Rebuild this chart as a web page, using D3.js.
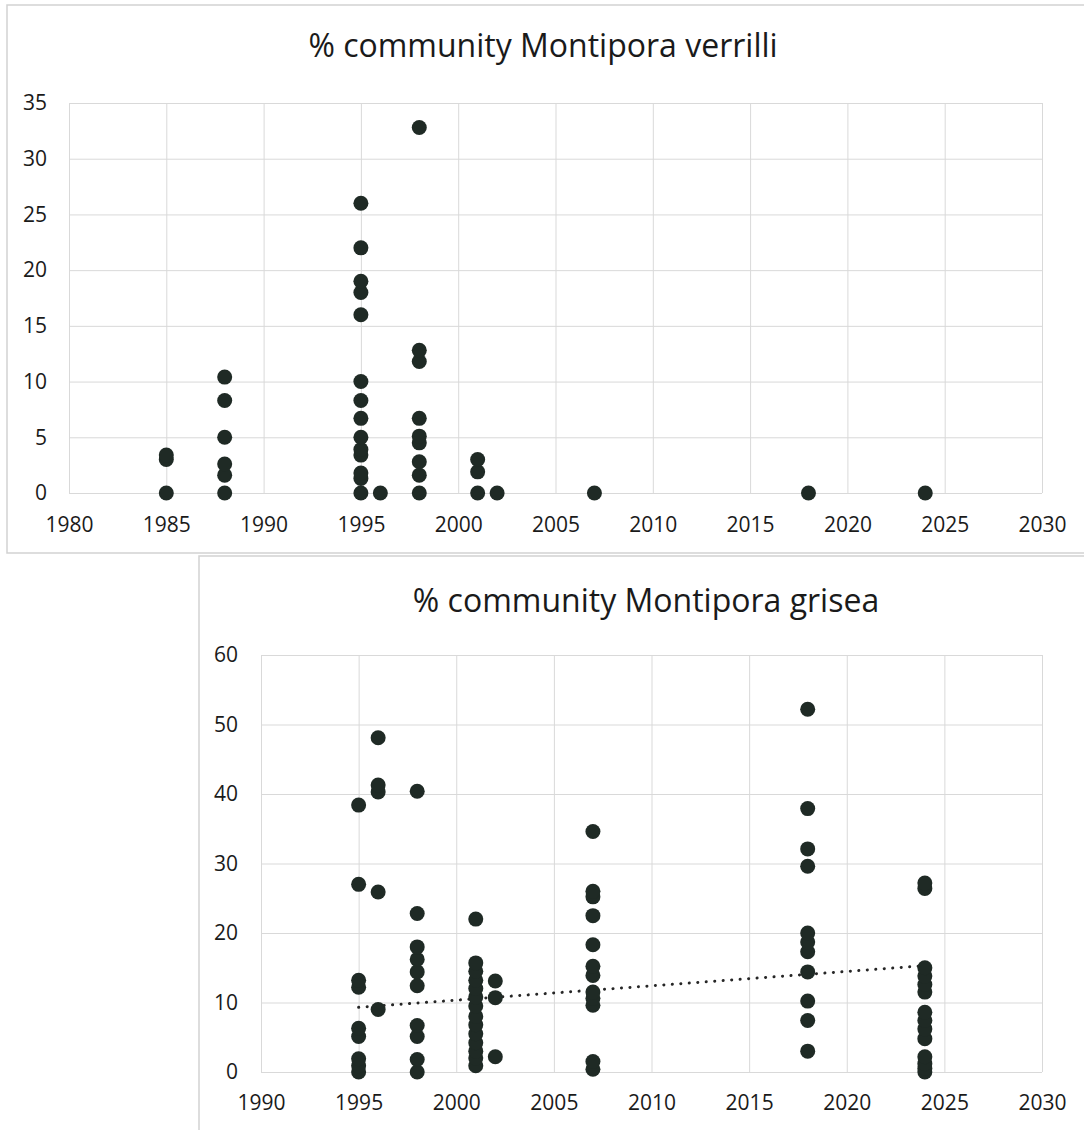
<!DOCTYPE html>
<html>
<head>
<meta charset="utf-8">
<script src="https://cdn.jsdelivr.net/npm/d3@7"></script>
<style>
  html, body { margin: 0; padding: 0; background: #ffffff; }
  svg { display: block; }
  text { font-family: "Open Sans", "Noto Sans", sans-serif; fill: #1a1a1a; }
</style>
</head>
<body>
<div id="chart"></div>
<script>
// ---- Montipora verrilli: survey years and % community values per year ----
const verrilliYears = [1985, 1988, 1995, 1996, 1998, 2001, 2002, 2007, 2018, 2024];
const verrilliValues = [
  [0, 3.0, 3.4],
  [0, 1.6, 2.6, 5.0, 8.3, 10.4],
  [0, 1.3, 1.8, 3.4, 3.9, 5.0, 6.7, 8.3, 10.0, 16.0, 18.0, 19.0, 22.0, 26.0],
  [0],
  [0, 1.6, 2.8, 4.5, 5.1, 6.7, 11.8, 12.8, 32.8],
  [0, 1.9, 3.0],
  [0],
  [0],
  [0],
  [0]
];
const verrilliXTicks = [1980, 1985, 1990, 1995, 2000, 2005, 2010, 2015, 2020, 2025, 2030];
const verrilliYTicks = [0, 5, 10, 15, 20, 25, 30, 35];

// ---- Montipora grisea: survey years and % community values per year ----
const griseaYears = [1995, 1996, 1998, 2001, 2002, 2007, 2018, 2024];
const griseaValues = [
  [0, 0.9, 1.9, 5.1, 6.3, 12.2, 13.2, 27.0, 38.4],
  [9.0, 25.9, 40.3, 41.3, 48.1],
  [0, 1.8, 5.1, 6.7, 12.4, 14.4, 16.2, 18.0, 22.8, 40.4],
  [0.9, 2.0, 3.0, 4.2, 5.5, 6.8, 8.0, 9.5, 10.8, 12.0, 13.2, 14.5, 15.7, 22.0],
  [2.2, 10.7, 13.1],
  [0.4, 1.5, 9.6, 10.6, 11.5, 13.9, 15.2, 18.3, 22.5, 25.2, 26.0, 34.6],
  [3.0, 7.4, 10.2, 14.4, 17.3, 18.7, 20.0, 29.6, 32.1, 37.9, 52.2],
  [0, 0.5, 1.2, 2.2, 4.8, 6.2, 7.4, 8.6, 11.5, 12.6, 13.8, 15.0, 26.4, 27.2]
];
const griseaXTicks = [1990, 1995, 2000, 2005, 2010, 2015, 2020, 2025, 2030];
const griseaYTicks = [0, 10, 20, 30, 40, 50, 60];
// linear trend line endpoints (year, value)
const griseaTrendYears = [1995, 2024];
const griseaTrendValues = [9.3, 15.3];

const W = 1084, H = 1130;
const svg = d3.select("#chart").append("svg")
  .attr("width", W).attr("height", H);

const FRAME = "#d2d2d2";
const GRID = "#d9d9d9";
const DOT = "#1f2a25";
const TICK_FONT = 21;
const TITLE_FONT = 32;

function flatten(years, values) {
  const pts = [];
  years.forEach((yr, i) => values[i].forEach(v => pts.push({ x: yr, y: v })));
  return pts;
}

function drawPanel(cfg) {
  const g = svg.append("g");

  // outer chart frame
  g.append("rect")
    .attr("x", cfg.frame[0]).attr("y", cfg.frame[1])
    .attr("width", cfg.frame[2]).attr("height", cfg.frame[3])
    .attr("fill", "none").attr("stroke", FRAME).attr("stroke-width", 1.5);

  const x = d3.scaleLinear().domain(cfg.xDomain).range([cfg.left, cfg.right]);
  const y = d3.scaleLinear().domain(cfg.yDomain).range([cfg.bottom, cfg.top]);
  const pw = cfg.right - cfg.left, ph = cfg.bottom - cfg.top;

  // vertical gridlines + year labels
  const xa = g.append("g")
    .attr("transform", `translate(0,${cfg.bottom})`)
    .call(d3.axisBottom(x).tickValues(cfg.xTicks).tickFormat(d3.format("d"))
      .tickSizeInner(-ph).tickSizeOuter(0).tickPadding(cfg.xPad));
  xa.select(".domain").remove();
  xa.selectAll(".tick line").attr("stroke", GRID).attr("stroke-width", 1);
  xa.selectAll(".tick text").attr("font-size", TICK_FONT).attr("fill", "#1a1a1a");

  // horizontal gridlines + value labels
  const ya = g.append("g")
    .attr("transform", `translate(${cfg.left},0)`)
    .call(d3.axisLeft(y).tickValues(cfg.yTicks).tickFormat(d3.format("d"))
      .tickSizeInner(-pw).tickSizeOuter(0).tickPadding(cfg.yPad));
  ya.select(".domain").remove();
  ya.selectAll(".tick line").attr("stroke", GRID).attr("stroke-width", 1);
  ya.selectAll(".tick text").attr("font-size", TICK_FONT).attr("fill", "#1a1a1a");

  // title
  g.append("text")
    .attr("x", cfg.titleX).attr("y", cfg.titleY)
    .attr("text-anchor", "middle")
    .attr("font-size", TITLE_FONT)
    .text(cfg.title);

  // trend line (dotted)
  if (cfg.trendYears) {
    const line = d3.line().x(d => x(d[0])).y(d => y(d[1]));
    g.append("path")
      .datum(cfg.trendYears.map((yr, i) => [yr, cfg.trendValues[i]]))
      .attr("d", line)
      .attr("fill", "none")
      .attr("stroke", "#262626")
      .attr("stroke-width", 3)
      .attr("stroke-linecap", "round")
      .attr("stroke-dasharray", "0.1,8.4");
  }

  // survey points
  g.append("g").selectAll("circle")
    .data(flatten(cfg.years, cfg.values))
    .join("circle")
    .attr("cx", d => x(d.x))
    .attr("cy", d => y(d.y))
    .attr("r", 7.5)
    .attr("fill", DOT);
}

drawPanel({
  title: "% community Montipora verrilli",
  frame: [7, 5, 1090, 548],
  left: 69, right: 1042, top: 103, bottom: 493,
  xDomain: [1980, 2030], yDomain: [0, 35],
  xTicks: verrilliXTicks, yTicks: verrilliYTicks,
  xPad: 24, yPad: 22,
  titleX: 543, titleY: 57,
  years: verrilliYears, values: verrilliValues
});

drawPanel({
  title: "% community Montipora grisea",
  frame: [199, 556, 900, 600],
  left: 261, right: 1042, top: 655, bottom: 1072,
  xDomain: [1990, 2030], yDomain: [0, 60],
  xTicks: griseaXTicks, yTicks: griseaYTicks,
  xPad: 23, yPad: 23,
  titleX: 646, titleY: 612,
  years: griseaYears, values: griseaValues,
  trendYears: griseaTrendYears, trendValues: griseaTrendValues
});
</script>
</body>
</html>
